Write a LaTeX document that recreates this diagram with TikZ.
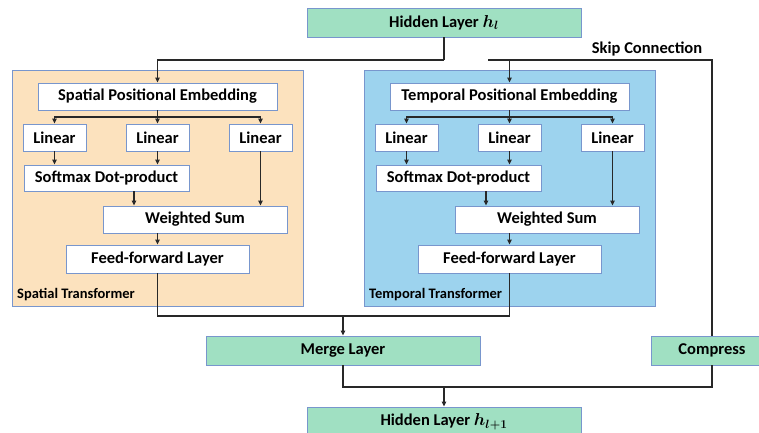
\documentclass[tikz,border=0pt]{standalone}
\usepackage{amsmath, bm}
\usepackage{fontspec}
\setmainfont{Carlito}
\usetikzlibrary{arrows.meta, positioning}
\definecolor{layergreen}{RGB}{160,224,194}
\definecolor{spatialfill}{RGB}{252,226,190}
\definecolor{temporalfill}{RGB}{157,211,238}
\definecolor{boxline}{RGB}{120,150,205}
\definecolor{wire}{RGB}{40,40,40}
\tikzset{
  layer/.style     = {draw=boxline, fill=layergreen, line width=0.9pt,
                      font=\fontsize{16.5}{18}\selectfont\bfseries,
                      minimum width=274pt, minimum height=29pt, inner sep=0pt},
  panel/.style     = {draw=boxline, line width=0.9pt, inner sep=0pt,
                      minimum width=291pt, minimum height=236pt},
  op/.style        = {draw=boxline, fill=white, line width=0.9pt, inner sep=0pt,
                      font=\fontsize{16.5}{18}\selectfont\bfseries,
                      minimum height=27pt},
  panellabel/.style= {font=\fontsize{14.5}{16}\selectfont\bfseries, inner sep=0pt,
                      anchor=west},
  flow/.style      = {-, line width=1.3pt, wire},
  arrowflow/.style = {-{Triangle[length=5pt,width=4.5pt]}, line width=1.3pt, wire},
}
% one transformer block, placed at the origin of the current scope
\newcommand{\transblock}[4]{%
  \node[panel, fill=#2] (#1box) at (157.5,188) {};
  \node[op, minimum width=239pt] (#1emb) at (157.5,96.5) {#3 Positional Embedding};
  \node[op, minimum width=63pt] (#1lq) at (54.5,137.5)  {Linear};
  \node[op, minimum width=63pt] (#1lk) at (157.5,137.5) {Linear};
  \node[op, minimum width=63pt] (#1lv) at (260.5,137.5) {Linear};
  \node[op, minimum width=165pt, minimum height=26pt] (#1soft) at (106.5,178) {Softmax Dot-product};
  \node[op, minimum width=184pt] (#1ws) at (195,219.5) {Weighted Sum};
  \node[op, minimum width=183pt, minimum height=28pt] (#1ff) at (157.5,259) {Feed-forward Layer};
  \node[panellabel] (#1lab) at (17,295) {#4};
  \coordinate (#1split) at (157.5,117);
  \draw[flow] (#1emb) -- (#1split);
  \draw[arrowflow] (#1split) -| (#1lq);
  \draw[arrowflow] (#1split) -- (#1lk);
  \draw[arrowflow] (#1split) -| (#1lv);
  \draw[arrowflow] (#1lq) -- (#1lq |- #1soft.north);
  \draw[arrowflow] (#1lk) -- (#1lk |- #1soft.north);
  \draw[arrowflow] (#1soft.south -| 134,0) -- (134,0 |- #1ws.north);
  \draw[arrowflow] (#1lv) -- (#1lv |- #1ws.north);
  \draw[arrowflow] (#1ws.south -| #1ff) -- (#1ff);
}

\begin{document}
\begin{tikzpicture}[x=1pt, y=-1pt]
\path[use as bounding box, clip] (0,0) rectangle (759,432);

% ===== outer layers =====
\node[layer] (hin)   at (444,22.5)  {Hidden Layer $\bm{h_l}$};
\node[layer] (merge) at (343,350.5) {Merge Layer};
\node[layer, minimum width=122pt] (comp) at (712,350.5) {Compress};
\node[layer] (hout)  at (444,421.5) {Hidden Layer $\bm{h_{l+1}}$};
\node[font=\fontsize{16.5}{18}\selectfont\bfseries, inner sep=0pt]
  (skiplab) at (647,49) {Skip Connection};

% ===== Spatial block =====
\transblock{s}{spatialfill}{Spatial}{Spatial Transformer}

% ===== Temporal block =====
\begin{scope}[shift={(352,0)}]
\transblock{t}{temporalfill}{Temporal}{Temporal Transformer}
\end{scope}

% ===== connections =====
\coordinate (top)  at (444,60);
\coordinate (skip) at (488,60);
\coordinate (mid)  at (343,316);
\coordinate (bot)  at (444,387);
\draw[flow] (hin) -- (top);
\draw[arrowflow] (top) -| (semb);
\draw[flow] (skip) -| (comp);
\draw[arrowflow] (skip -| temb) -- (temb);
\draw[flow] (sff) |- (mid);
\draw[flow] (tff) |- (mid);
\draw[arrowflow] (mid) -- (merge);
\draw[flow] (merge) |- (bot);
\draw[flow] (comp) |- (bot);
\draw[arrowflow] (bot) -- (hout);

\end{tikzpicture}
\end{document}
